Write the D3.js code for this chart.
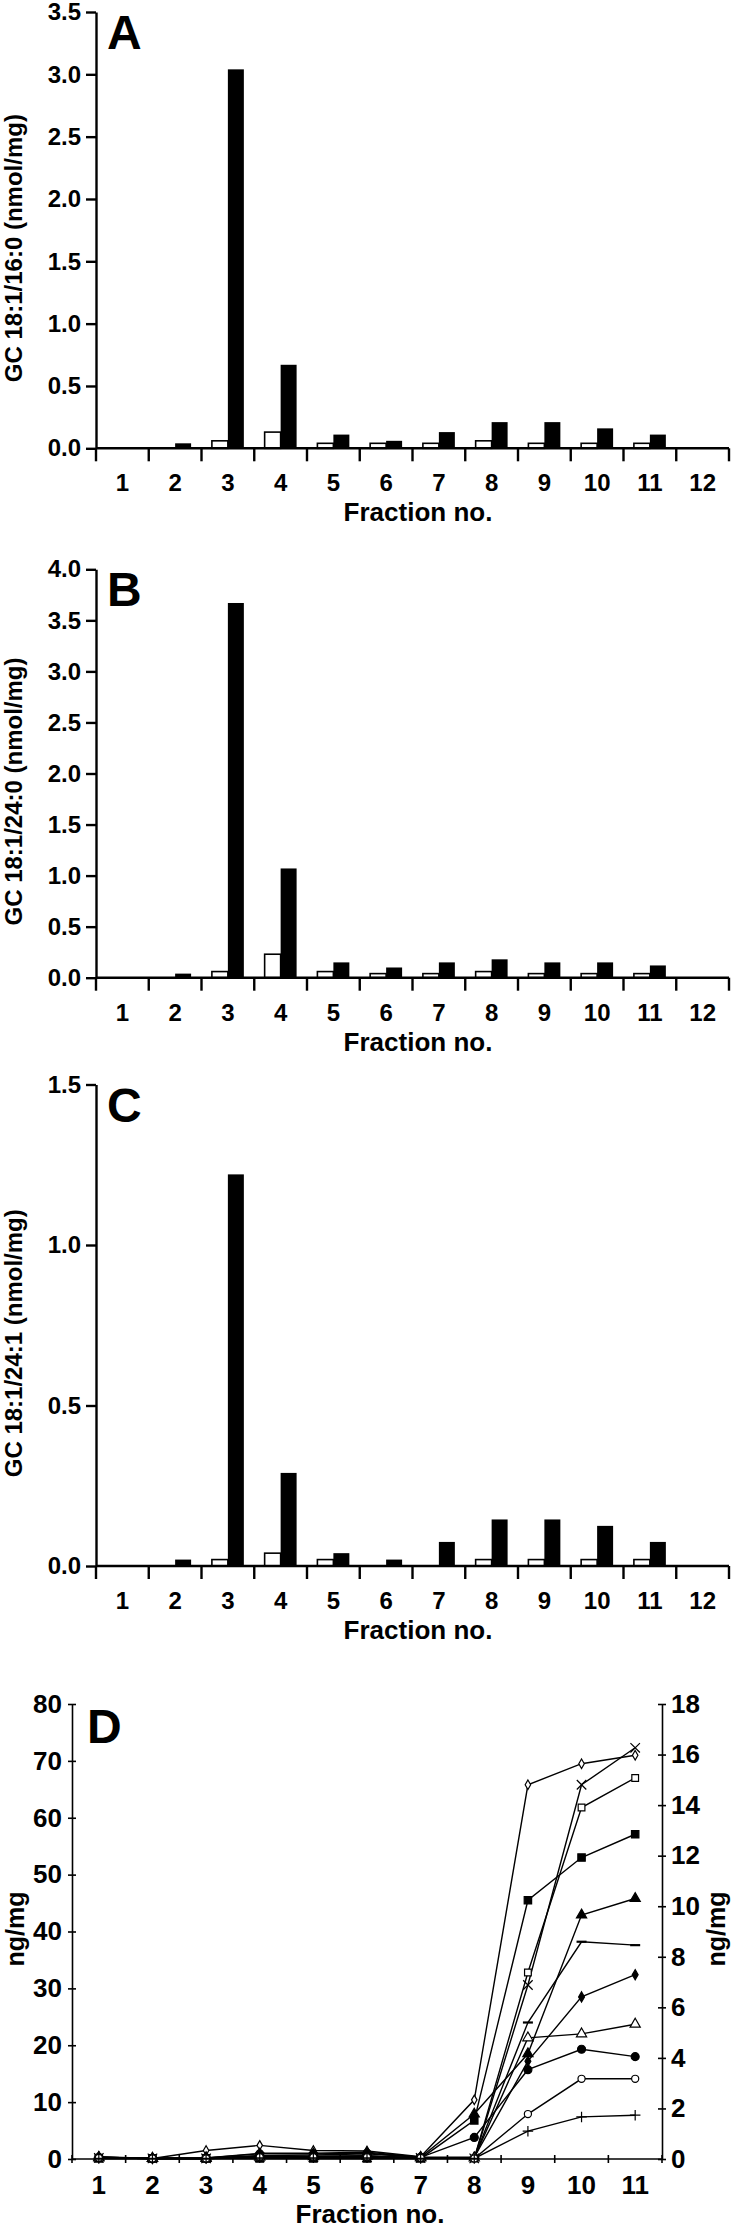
<!DOCTYPE html>
<html lang="en">
<head>
<meta charset="utf-8">
<title>GC fractions</title>
<script src="https://d3js.org/d3.v7.min.js"></script>
<style>
body { margin: 0; background: #fff; }
svg text { font-family: "Liberation Sans", Arial, Helvetica, sans-serif; font-weight: bold; fill: #000; }
</style>
</head>
<body>
<script>

// ---- data ----
const fractions = [1, 2, 3, 4, 5, 6, 7, 8, 9, 10, 11, 12];

// panel A  GC 18:1/16:0
const a_open   = [0, 0, 0.06, 0.13, 0.04, 0.04, 0.04, 0.06, 0.04, 0.04, 0.04, 0];
const a_filled = [0, 0.04, 3.04, 0.67, 0.11, 0.06, 0.13, 0.21, 0.21, 0.16, 0.11, 0];
// panel B  GC 18:1/24:0
const b_open   = [0, 0, 0.06, 0.23, 0.06, 0.04, 0.04, 0.06, 0.04, 0.04, 0.04, 0];
const b_filled = [0, 0.04, 3.67, 1.07, 0.15, 0.10, 0.15, 0.18, 0.15, 0.15, 0.12, 0];
// panel C  GC 18:1/24:1
const c_open   = [0, 0, 0.02, 0.04, 0.02, 0, 0, 0.02, 0.02, 0.02, 0.02, 0];
const c_filled = [0, 0.02, 1.22, 0.29, 0.04, 0.02, 0.075, 0.145, 0.145, 0.125, 0.075, 0];

// panel D  ng/mg, fractions 1..11
const d_fractions = [1, 2, 3, 4, 5, 6, 7, 8, 9, 10, 11];
const d_openDiamond   = [0.4, 0.1, 1.5, 2.4, 1.5, 1.4, 0.4, 10.4, 65.8, 69.5, 71.0];
const d_cross         = [0.2, 0.1, 0.1, 0.3, 0.3, 0.3, 0.2, 0.1, 30.6, 65.8, 72.3];
const d_openSquare    = [0.2, 0.1, 0.1, 0.4, 0.4, 0.5, 0.2, 0.1, 32.8, 61.8, 67.0];
const d_filledSquare  = [0.1, 0.1, 0.1, 0.1, 0.1, 0.1, 0.1, 6.8, 45.5, 53.0, 57.1];
const d_filledTri     = [0.3, 0.1, 0.2, 0.6, 0.7, 0.9, 0.3, 7.9, 18.5, 42.9, 45.8];
const d_dash          = [0.2, 0.1, 0.1, 0.5, 0.5, 0.6, 0.2, 0.2, 24.0, 38.2, 37.6];
const d_filledDiamond = [0.3, 0.1, 0.2, 1.0, 1.0, 1.2, 0.3, 0.3, 17.2, 28.5, 32.4];
const d_openTri       = [0.2, 0.1, 0.1, 0.3, 0.4, 0.5, 0.2, 0.2, 21.3, 22.0, 23.7];
const d_filledCircle  = [0.3, 0.1, 0.2, 0.9, 0.9, 1.0, 0.3, 3.8, 15.7, 19.3, 18.0];
const d_openCircle    = [0.2, 0.1, 0.1, 0.3, 0.3, 0.3, 0.2, 0.1, 7.9, 14.1, 14.1];
const d_plus          = [0.1, 0.1, 0.1, 0.2, 0.2, 0.2, 0.1, 0.1, 4.9, 7.4, 7.7];

const leftTicks  = [0, 10, 20, 30, 40, 50, 60, 70, 80];
const rightTicks = [0, 2, 4, 6, 8, 10, 12, 14, 16, 18];

const width = 732, height = 2229;

var svg = d3.select("body").append("svg")
    .attr("width", width)
    .attr("height", height);

// custom stroke symbols
const symPlus = { draw(ctx, size) { const r = Math.sqrt(size) / 2;
    ctx.moveTo(-r, 0); ctx.lineTo(r, 0); ctx.moveTo(0, -r); ctx.lineTo(0, r); } };
const symTimes = { draw(ctx, size) { const r = Math.sqrt(size) / 2;
    ctx.moveTo(-r, -r); ctx.lineTo(r, r); ctx.moveTo(-r, r); ctx.lineTo(r, -r); } };
const symDash = { draw(ctx, size) { const r = Math.sqrt(size) / 2;
    ctx.moveTo(-r, 0); ctx.lineTo(r, 0); } };

function barPanel(p) {
  var g = svg.append("g");
  var x = d3.scaleBand().domain(fractions).range([96, 729]);
  var sub = d3.scaleBand().domain(["open", "filled"]).range([0, x.bandwidth()]).paddingOuter(0.65);
  var y = d3.scaleLinear().domain([0, p.max]).range([p.bottom, p.top]);
  var y0 = y(0);

  // bars
  var rows = fractions.map(function(f, i) { return {f: f, open: p.open[i], filled: p.filled[i]}; });
  g.selectAll("rect.open").data(rows.filter(d => d.open > 0)).enter().append("rect")
    .attr("x", d => x(d.f) + sub("open"))
    .attr("y", d => y(d.open))
    .attr("width", sub.bandwidth())
    .attr("height", d => y0 - y(d.open))
    .attr("fill", "#fff").attr("stroke", "#000").attr("stroke-width", 1.6);
  g.selectAll("rect.filled").data(rows.filter(d => d.filled > 0)).enter().append("rect")
    .attr("x", d => x(d.f) + sub("filled"))
    .attr("y", d => y(d.filled))
    .attr("width", sub.bandwidth())
    .attr("height", d => y0 - y(d.filled))
    .attr("fill", "#000");

  // y axis
  var yAxis = g.append("g").attr("transform", "translate(96,0)")
    .call(d3.axisLeft(y).tickValues(d3.range(0, p.max + 1e-9, p.step))
      .tickFormat(d3.format(".1f")).tickSize(10).tickSizeOuter(0).tickPadding(5));
  yAxis.selectAll("path, line").attr("stroke", "#000").attr("stroke-width", 2.4);
  yAxis.selectAll("text").style("font-size", "24px");

  // x axis: line, boundary ticks, labels
  g.append("line").attr("x1", 96).attr("x2", 729).attr("y1", y0).attr("y2", y0)
    .attr("stroke", "#000").attr("stroke-width", 2.6);
  var bounds = fractions.map(f => x(f)).concat([x(12) + x.bandwidth()]);
  g.selectAll("line.bt").data(bounds).enter().append("line")
    .attr("x1", d => d).attr("x2", d => d).attr("y1", y0).attr("y2", y0 + 13)
    .attr("stroke", "#000").attr("stroke-width", 2.4);
  var xAxis = g.append("g").attr("transform", "translate(0," + y0 + ")")
    .call(d3.axisBottom(x).tickSize(0).tickPadding(26));
  xAxis.select(".domain").remove();
  xAxis.selectAll("text").style("font-size", "24px");

  g.append("text").attr("x", 418).attr("y", y0 + 73)
    .attr("text-anchor", "middle").style("font-size", "26px").text("Fraction no.");

  g.append("text").attr("x", 107).attr("y", p.top + 37)
    .style("font-size", "48px").text(p.letter);

  g.append("text")
    .attr("transform", "translate(22," + ((p.top + y0) / 2 + 18) + ") rotate(-90)")
    .attr("text-anchor", "middle").style("font-size", "24px").text(p.label);
}

barPanel({top: 12, bottom: 448.3, max: 3.5, step: 0.5, letter: "A",
  label: "GC 18:1/16:0 (nmol/mg)", open: a_open, filled: a_filled});
barPanel({top: 569.3, bottom: 977.7, max: 4.0, step: 0.5, letter: "B",
  label: "GC 18:1/24:0 (nmol/mg)", open: b_open, filled: b_filled});
barPanel({top: 1084.5, bottom: 1566, max: 1.5, step: 0.5, letter: "C",
  label: "GC 18:1/24:1 (nmol/mg)", open: c_open, filled: c_filled});

// ---- panel D ----
var gd = svg.append("g");
var xD = d3.scaleBand().domain(d_fractions).range([72, 662]);
var yD = d3.scaleLinear().domain([0, 80]).range([2159, 1704]);
var yD2 = d3.scaleLinear().domain([0, 18]).range([2159, 1704]);
var cx = f => xD(f) + xD.bandwidth() / 2;

var seriesD = [
  {values: d_openDiamond,   type: d3.symbolDiamond, size: 26, fill: "#fff"},
  {values: d_cross,         type: symTimes,         size: 90, fill: "none"},
  {values: d_openSquare,    type: d3.symbolSquare,  size: 45, fill: "#fff"},
  {values: d_filledSquare,  type: d3.symbolSquare,  size: 55, fill: "#000"},
  {values: d_filledTri,     type: d3.symbolTriangle,size: 45, fill: "#000"},
  {values: d_dash,          type: symDash,          size: 100, fill: "none", sw: 2.2},
  {values: d_filledDiamond, type: d3.symbolDiamond, size: 30, fill: "#000"},
  {values: d_openTri,       type: d3.symbolTriangle,size: 45, fill: "#fff"},
  {values: d_filledCircle,  type: d3.symbolCircle,  size: 50, fill: "#000"},
  {values: d_openCircle,    type: d3.symbolCircle,  size: 40, fill: "#fff"},
  {values: d_plus,          type: symPlus,          size: 110, fill: "none"}
];

var line = d3.line().x((v, i) => cx(d_fractions[i])).y(v => yD(v));
gd.selectAll("path.series").data(seriesD).enter().append("path")
  .attr("d", s => line(s.values))
  .attr("fill", "none").attr("stroke", "#000").attr("stroke-width", 1.4);

seriesD.forEach(function(s) {
  gd.selectAll(null).data(s.values).enter().append("path")
    .attr("transform", (v, i) => "translate(" + cx(d_fractions[i]) + "," + yD(v) + ")")
    .attr("d", d3.symbol().type(s.type).size(s.size))
    .attr("fill", s.fill).attr("stroke", "#000").attr("stroke-width", s.sw || 1.2);
});

// left axis
var lAx = gd.append("g").attr("transform", "translate(72,0)")
  .call(d3.axisLeft(yD).tickValues(leftTicks).tickSize(4).tickSizeOuter(0).tickPadding(6));
lAx.selectAll(".tick line").attr("x1", 4);
lAx.selectAll("path, line").attr("stroke", "#000").attr("stroke-width", 1.6);
lAx.selectAll("text").style("font-size", "26px");

// right axis
var rAx = gd.append("g").attr("transform", "translate(662,0)")
  .call(d3.axisRight(yD2).tickValues(rightTicks).tickSize(4).tickSizeOuter(0).tickPadding(5));
rAx.selectAll(".tick line").attr("x1", -4);
rAx.selectAll("path, line").attr("stroke", "#000").attr("stroke-width", 1.6);
rAx.selectAll("text").style("font-size", "26px");

// bottom axis
gd.append("line").attr("x1", 72).attr("x2", 662).attr("y1", yD(0)).attr("y2", yD(0))
  .attr("stroke", "#000").attr("stroke-width", 1.6);
var dBounds = d_fractions.map(f => xD(f)).concat([xD(11) + xD.bandwidth()]);
gd.selectAll("line.bt").data(dBounds).enter().append("line")
  .attr("x1", d => d).attr("x2", d => d).attr("y1", yD(0) - 4).attr("y2", yD(0) + 4)
  .attr("stroke", "#000").attr("stroke-width", 1.6);
var bAx = gd.append("g").attr("transform", "translate(0," + yD(0) + ")")
  .call(d3.axisBottom(xD).tickSize(0).tickPadding(17));
bAx.select(".domain").remove();
bAx.selectAll("text").style("font-size", "26px");

gd.append("text").attr("x", 370).attr("y", 2223)
  .attr("text-anchor", "middle").style("font-size", "26px").text("Fraction no.");
gd.append("text").attr("x", 87).attr("y", 1743).style("font-size", "48px").text("D");
gd.append("text").attr("transform", "translate(24,1929) rotate(-90)")
  .attr("text-anchor", "middle").style("font-size", "25px").text("ng/mg");
gd.append("text").attr("transform", "translate(725,1929) rotate(-90)")
  .attr("text-anchor", "middle").style("font-size", "25px").text("ng/mg");

</script>
</body>
</html>
